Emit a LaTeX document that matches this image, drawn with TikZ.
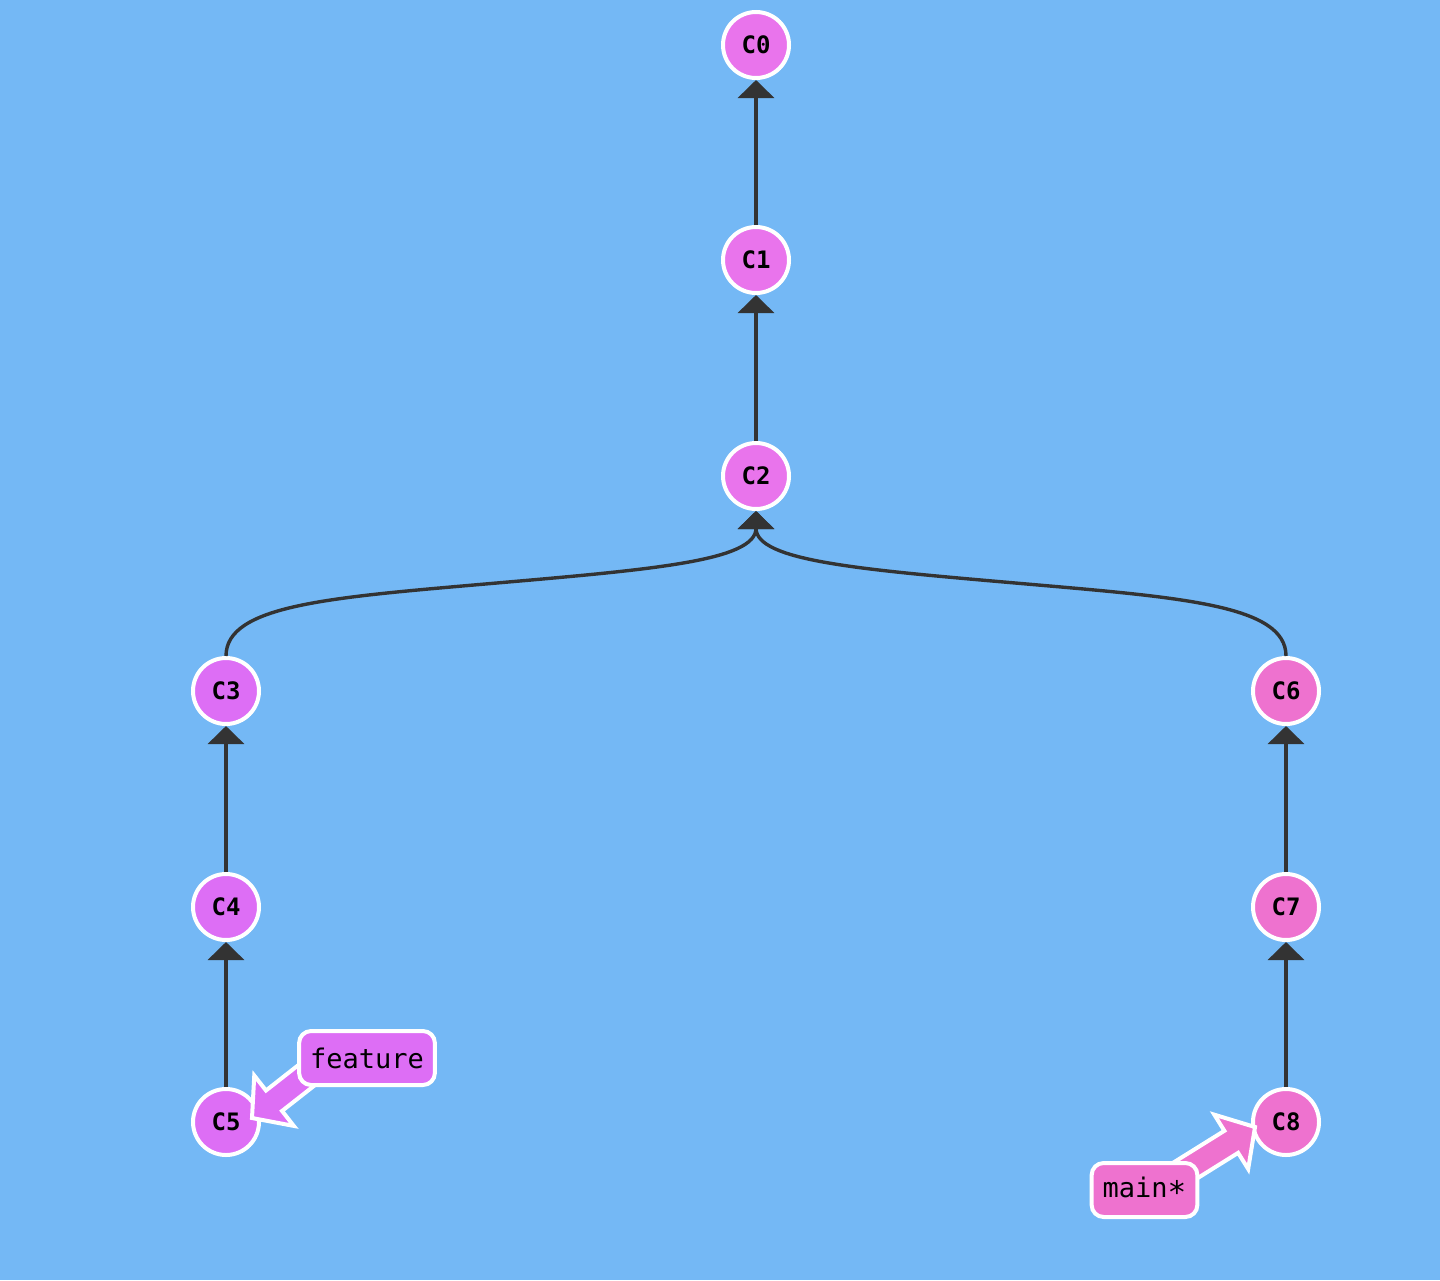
\documentclass[tikz,border=0pt]{standalone}
\usepackage{fontspec}
\setmonofont{DejaVu Sans Mono}
\usetikzlibrary{arrows.meta,calc}
\definecolor{bgblue}{HTML}{74B8F5}
\definecolor{topfill}{HTML}{E974EC}
\definecolor{leftfill}{HTML}{DD6EF5}
\definecolor{rightfill}{HTML}{EE72CF}
\definecolor{edgegray}{HTML}{333333}
\pgfdeclarelayer{front}
\pgfsetlayers{main,front}
\begin{document}
\begin{tikzpicture}[x=0.5pt,y=-0.5pt,
  commitnode/.style={circle, draw=white, line width=2pt, minimum size=33pt, inner sep=0pt,
    font=\ttfamily\bfseries\fontsize{12}{12}\selectfont, text=black},
  parentedge/.style={draw=edgegray, line width=1.7pt, -{Triangle[length=9pt,width=18pt]}},
  branchlabel/.style={rectangle, rounded corners=6pt, draw=white, line width=2pt,
    minimum height=27pt, inner xsep=5.5pt, inner ysep=0pt,
    font=\ttfamily\fontsize{13.5}{13.5}\selectfont, text=black},
  bigarrow/.style={draw=white, line width=2pt, line join=miter}]
\fill[bgblue] (0,0) rectangle (1440,1280);
\useasboundingbox (0,0) rectangle (1440,1280);

% commits
\node[commitnode, fill=topfill] (C0) at (756,45) {C0};
\node[commitnode, fill=topfill] (C1) at (756,260) {C1};
\node[commitnode, fill=topfill] (C2) at (756,476) {C2};
\node[commitnode, fill=leftfill] (C3) at (226,691) {C3};
\node[commitnode, fill=leftfill] (C4) at (226,907) {C4};
\node[commitnode, fill=leftfill] (C5) at (226,1122) {C5};
\node[commitnode, fill=rightfill] (C6) at (1286,691) {C6};
\node[commitnode, fill=rightfill] (C7) at (1286,907) {C7};
\node[commitnode, fill=rightfill] (C8) at (1286,1122) {C8};

% parent edges
\draw[parentedge] (C1) -- (C0);
\draw[parentedge] (C2) -- (C1);
\draw[parentedge] (C4) -- (C3);
\draw[parentedge] (C5) -- (C4);
\draw[parentedge] (C7) -- (C6);
\draw[parentedge] (C8) -- (C7);
\coordinate (mL) at ($(C3)!0.5!(C2)$);
\coordinate (mR) at ($(C6)!0.5!(C2)$);
\draw[parentedge] (C3.north) .. controls ($(C3.north)+(0,-51)$) and ($(mL)+(-161,14)$) .. (mL)
  .. controls ($(mL)+(161,-14)$) and ($(C2.south)+(0,50)$) .. (C2.south);
\draw[parentedge] (C6.north) .. controls ($(C6.north)+(0,-51)$) and ($(mR)+(161,14)$) .. (mR)
  .. controls ($(mR)+(-161,-14)$) and ($(C2.south)+(0,50)$) .. (C2.south);

% branch labels
\begin{pgfonlayer}{front}
\node[branchlabel, fill=leftfill] (featurelbl) at (367,1058) {feature};
\node[branchlabel, fill=rightfill] (mainlbl) at (1144.5,1190) {main\raisebox{-0.22em}{\scalebox{1.15}{*}}};
\end{pgfonlayer}

% branch arrows
\coordinate (ft) at ($(C5)+(26,-4)$);
\coordinate (fs) at ($(featurelbl)+(-36,-2)$);
\coordinate (fb) at ($(ft)!14pt!(fs)$);
\draw[bigarrow, fill=leftfill] (ft) -- ($(fb)!16pt!90:(ft)$) -- ($(fb)!6.5pt!90:(ft)$)
  -- ($(fs)!6.5pt!90:(ft)$) -- ($(fs)!6.5pt!-90:(ft)$) -- ($(fb)!6.5pt!-90:(ft)$)
  -- ($(fb)!16pt!-90:(ft)$) -- cycle;

\coordinate (mt) at ($(C8)+(-31,5)$);
\coordinate (ms) at ($(mainlbl)+(25.5,-10)$);
\coordinate (mb) at ($(mt)!14pt!(ms)$);
\draw[bigarrow, fill=rightfill] (mt) -- ($(mb)!16pt!90:(mt)$) -- ($(mb)!6.5pt!90:(mt)$)
  -- ($(ms)!6.5pt!90:(mt)$) -- ($(ms)!6.5pt!-90:(mt)$) -- ($(mb)!6.5pt!-90:(mt)$)
  -- ($(mb)!16pt!-90:(mt)$) -- cycle;
\end{tikzpicture}
\end{document}
